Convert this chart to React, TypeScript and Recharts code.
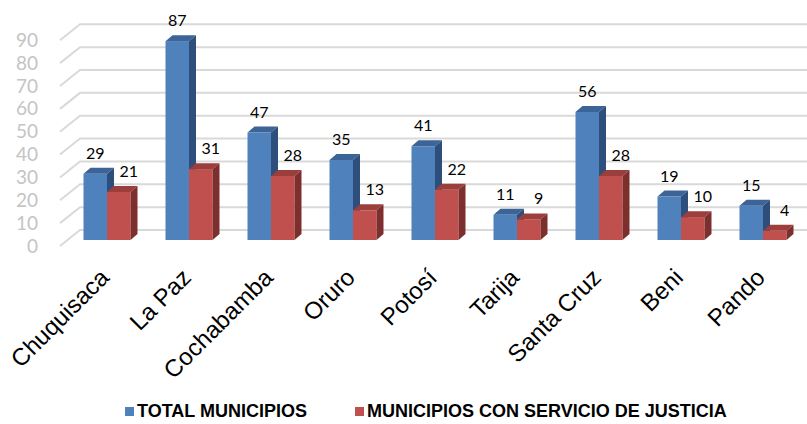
import { BarChart, Bar, XAxis, YAxis, CartesianGrid, Legend, LabelList } from 'recharts';

const departamentos = ['Chuquisaca', 'La Paz', 'Cochabamba', 'Oruro', 'Potosí', 'Tarija', 'Santa Cruz', 'Beni', 'Pando'];
const totalMunicipios = [29, 87, 47, 35, 41, 11, 56, 19, 15];
const conJusticia = [21, 31, 28, 13, 22, 9, 28, 10, 4];
const yTicks = [0, 10, 20, 30, 40, 50, 60, 70, 80, 90];
const seriesNames = ['TOTAL MUNICIPIOS', 'MUNICIPIOS CON SERVICIO DE JUSTICIA'];
const seriesColors = ['#4F81BD', '#C0504D'];

const data = departamentos.map((name, i) => ({
  name,
  total: totalMunicipios[i],
  justicia: conJusticia[i],
}));

// depth of each bar and of the back wall
const DX = 7;
const DY = 6;
const WALL_DX = 20;
const WALL_DY = 16;
const FRONT_DY = 6;

const makeBar = (front: string, top: string, side: string) => (props: any) => {
  const { x, y, width, height } = props;
  if (height == null || width == null) return null;
  return (
    <g>
      <rect x={x} y={y} width={width} height={height} fill={front} />
      <polygon
        points={`${x},${y} ${x + DX},${y - DY} ${x + width + DX},${y - DY} ${x + width},${y}`}
        fill={top}
      />
      <polygon
        points={`${x + width},${y} ${x + width + DX},${y - DY} ${x + width + DX},${y + height - DY} ${x + width},${y + height}`}
        fill={side}
      />
    </g>
  );
};

const gridLine = (props: any) => {
  const { x1, x2, y1, index } = props;
  const fy = y1 + FRONT_DY;
  const fx = x1 - 5.5;
  const by = fy - WALL_DY;
  const bx = fx + WALL_DX;
  return (
    <g key={`g-${index}`}>
      <polyline
        points={`${fx},${fy} ${bx},${by} ${x2 + 10},${by}`}
        fill="none"
        stroke="#D9D9D9"
        strokeWidth={2}
      />
    </g>
  );
};

const YTick = (props: any) => {
  const { y, payload } = props;
  return (
    <text x={38} y={y + FRONT_DY} dy={6.5} textAnchor="end" fontFamily="Lato, sans-serif" fontSize={19} fill="#C4C4C4">
      {payload.value}
    </text>
  );
};

const XTick = (props: any) => {
  const { x, payload } = props;
  const px = x + 4;
  const py = 279;
  return (
    <text
      x={px}
      y={py}
      textAnchor="end"
      transform={`rotate(-45 ${px} ${py})`}
      fontFamily="'Liberation Sans', Arial, sans-serif"
      fontSize={24}
      fill="#000"
    >
      {payload.value}
    </text>
  );
};

const makeLabel = (shift: number) => (props: any) => {
  const { x, y, width, value } = props;
  return (
    <text
      x={x + width / 2 + shift}
      y={y - 15}
      textAnchor="middle"
      fontFamily="Lato, sans-serif"
      fontSize={16}
      fill="#000"
    >
      {value}
    </text>
  );
};

const LegendContent = () => (
  <div style={{ position: 'relative', height: 24 }}>
    {seriesNames.map((name, i) => (
      <div
        key={name}
        style={{
          position: 'absolute',
          left: i === 0 ? 125 : 355,
          top: 0,
          display: 'flex',
          alignItems: 'center',
          fontFamily: "'Liberation Sans', Arial, sans-serif",
          fontWeight: 'bold',
          fontSize: 18,
          color: '#000',
          whiteSpace: 'nowrap',
        }}
      >
        <span style={{ display: 'inline-block', width: 9, height: 9, background: seriesColors[i], marginRight: 3 }} />
        {name}
      </div>
    ))}
  </div>
);

export default function App() {
  return (
    <div style={{ position: 'absolute', left: 0, top: 0, width: 807, height: 424, background: '#fff' }}>
      <BarChart
        width={807}
        height={424}
        data={data}
        barGap={0}
        barSize={23.5}
        margin={{ top: 34.3, right: 3.5, bottom: 183, left: 0.5 }}
      >
        <CartesianGrid vertical={false} horizontal={gridLine} />
        <XAxis dataKey="name" axisLine={false} tickLine={false} height={1} interval={0} tick={<XTick />} />
        <YAxis
          domain={[0, 90]}
          ticks={yTicks}
          interval={0}
          width={65}
          axisLine={false}
          tickLine={false}
          tick={<YTick />}
        />
        <Legend
          layout="horizontal"
          verticalAlign="middle"
          align="center"
          wrapperStyle={{ position: 'absolute', top: 401, left: 0, width: 807 }}
          content={<LegendContent />}
        />
        <Bar dataKey="total" name={seriesNames[0]} fill={seriesColors[0]} isAnimationActive={false} shape={makeBar(seriesColors[0], '#3C6497', '#2E4F7B')}>
          <LabelList dataKey="total" content={makeLabel(0)} />
        </Bar>
        <Bar dataKey="justicia" name={seriesNames[1]} fill={seriesColors[1]} isAnimationActive={false} shape={makeBar(seriesColors[1], '#9C3F3C', '#7C2F2D')}>
          <LabelList dataKey="justicia" content={makeLabel(10)} />
        </Bar>
      </BarChart>
    </div>
  );
}
